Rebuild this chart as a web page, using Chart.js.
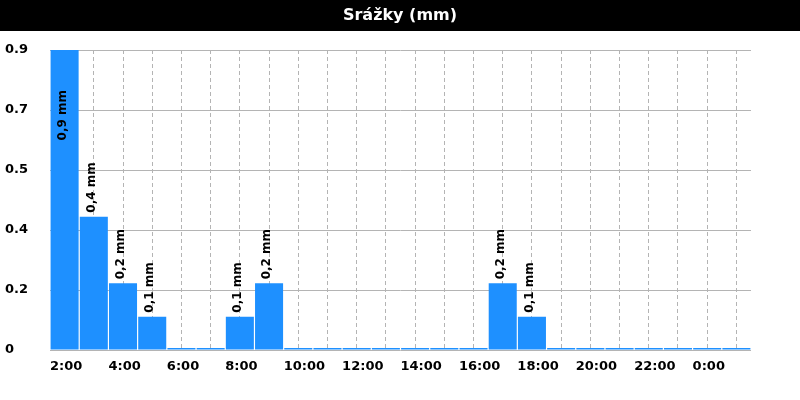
<!DOCTYPE html>
<html>
<head>
<meta charset="utf-8">
<script src="https://cdn.jsdelivr.net/npm/chart.js@4/dist/chart.umd.min.js"></script>
<style>
  html, body { margin: 0; padding: 0; background: #fff; }
  #wrap { width: 800px; height: 400px; }
</style>
</head>
<body>
<div id="wrap"><canvas id="chart"></canvas></div>
<script>
// hours (bar start) and precipitation per hour
const hours = ["2:00", "3:00", "4:00", "5:00", "6:00", "7:00", "8:00", "9:00",
  "10:00", "11:00", "12:00", "13:00", "14:00", "15:00", "16:00", "17:00",
  "18:00", "19:00", "20:00", "21:00", "22:00", "23:00", "0:00", "1:00"];
const rain = [0.9, 0.4, 0.2, 0.1, 0, 0, 0.1, 0.2,
  0, 0, 0, 0, 0, 0, 0, 0.2,
  0.1, 0, 0, 0, 0, 0, 0, 0];
const yTicks = [0, 0.18, 0.36, 0.54, 0.72, 0.9];
const title = "Srážky (mm)";

// black strip with the title
const titleBar = {
  id: "titleBar",
  beforeDraw(chart) {
    const ctx = chart.ctx;
    ctx.save();
    ctx.fillStyle = "#000";
    ctx.fillRect(0, 0, chart.width, 31);
    ctx.fillStyle = "#fff";
    ctx.font = "bold 16px 'DejaVu Sans'";
    ctx.textAlign = "center";
    ctx.textBaseline = "middle";
    ctx.fillText(title, chart.width / 2, 16);
    ctx.restore();
  }
};

// rotated "0,x mm" labels over the bars
const barLabels = {
  id: "barLabels",
  afterDatasetsDraw(chart) {
    const ctx = chart.ctx;
    const meta = chart.getDatasetMeta(0);
    ctx.save();
    ctx.font = "bold 12px 'DejaVu Sans'";
    ctx.fillStyle = "#000";
    ctx.textBaseline = "middle";
    ctx.textAlign = "left";
    meta.data.forEach(function (bar, i) {
      const v = rain[i];
      if (!v) return;
      const txt = v.toFixed(1).replace(".", ",") + " mm";
      const w = ctx.measureText(txt).width;
      let bottom = bar.y - 4;
      if (bottom - w < chart.chartArea.top) {
        bottom = bar.y + 40 + w;
      }
      ctx.save();
      ctx.translate(bar.x - 2, bottom);
      ctx.rotate(-Math.PI / 2);
      ctx.fillText(txt, 0, 0);
      ctx.restore();
    });
    ctx.restore();
  }
};

const ctx = document.getElementById("chart").getContext("2d");
new Chart(ctx, {
  type: "bar",
  data: {
    labels: hours,
    datasets: [{
      data: rain,
      backgroundColor: "#1e90ff",
      categoryPercentage: 1,
      barPercentage: 0.96,
      minBarLength: 2,
    }],
  },
  options: {
    responsive: true,
    maintainAspectRatio: false,
    animation: false,
    layout: { padding: { left: 5, right: 49, top: 50, bottom: 16 } },
    plugins: {
      legend: { display: false },
      tooltip: { enabled: false },
    },
    scales: {
      x: {
        border: { display: false, dash: [4, 3] },
        grid: {
          offset: false,
          drawTicks: false,
          color: "#b4b4b4",
        },
        afterFit: function (axis) { axis.height = 34; },
        ticks: {
          autoSkip: false,
          maxRotation: 0,
          align: "start",
          labelOffset: -14.6,
          padding: 9,
          color: "#000",
          font: { family: "'DejaVu Sans'", size: 13, weight: "bold" },
          callback: function (val, i) {
            return i % 2 === 0 ? hours[i] : "";
          },
        },
      },
      y: {
        min: 0,
        max: 0.9,
        border: { display: false },
        grid: { drawTicks: false, color: "#b4b4b4" },
        afterBuildTicks: function (axis) {
          axis.ticks = yTicks.map(function (v) { return { value: v }; });
        },
        afterFit: function (axis) { axis.width = 45; },
        ticks: {
          crossAlign: "far",
          color: "#000",
          font: { family: "'DejaVu Sans'", size: 13, weight: "bold" },
          callback: function (val) {
            return val === 0 ? "0" : val.toFixed(1);
          },
        },
      },
    },
  },
  plugins: [titleBar, barLabels],
});
</script>
</body>
</html>
